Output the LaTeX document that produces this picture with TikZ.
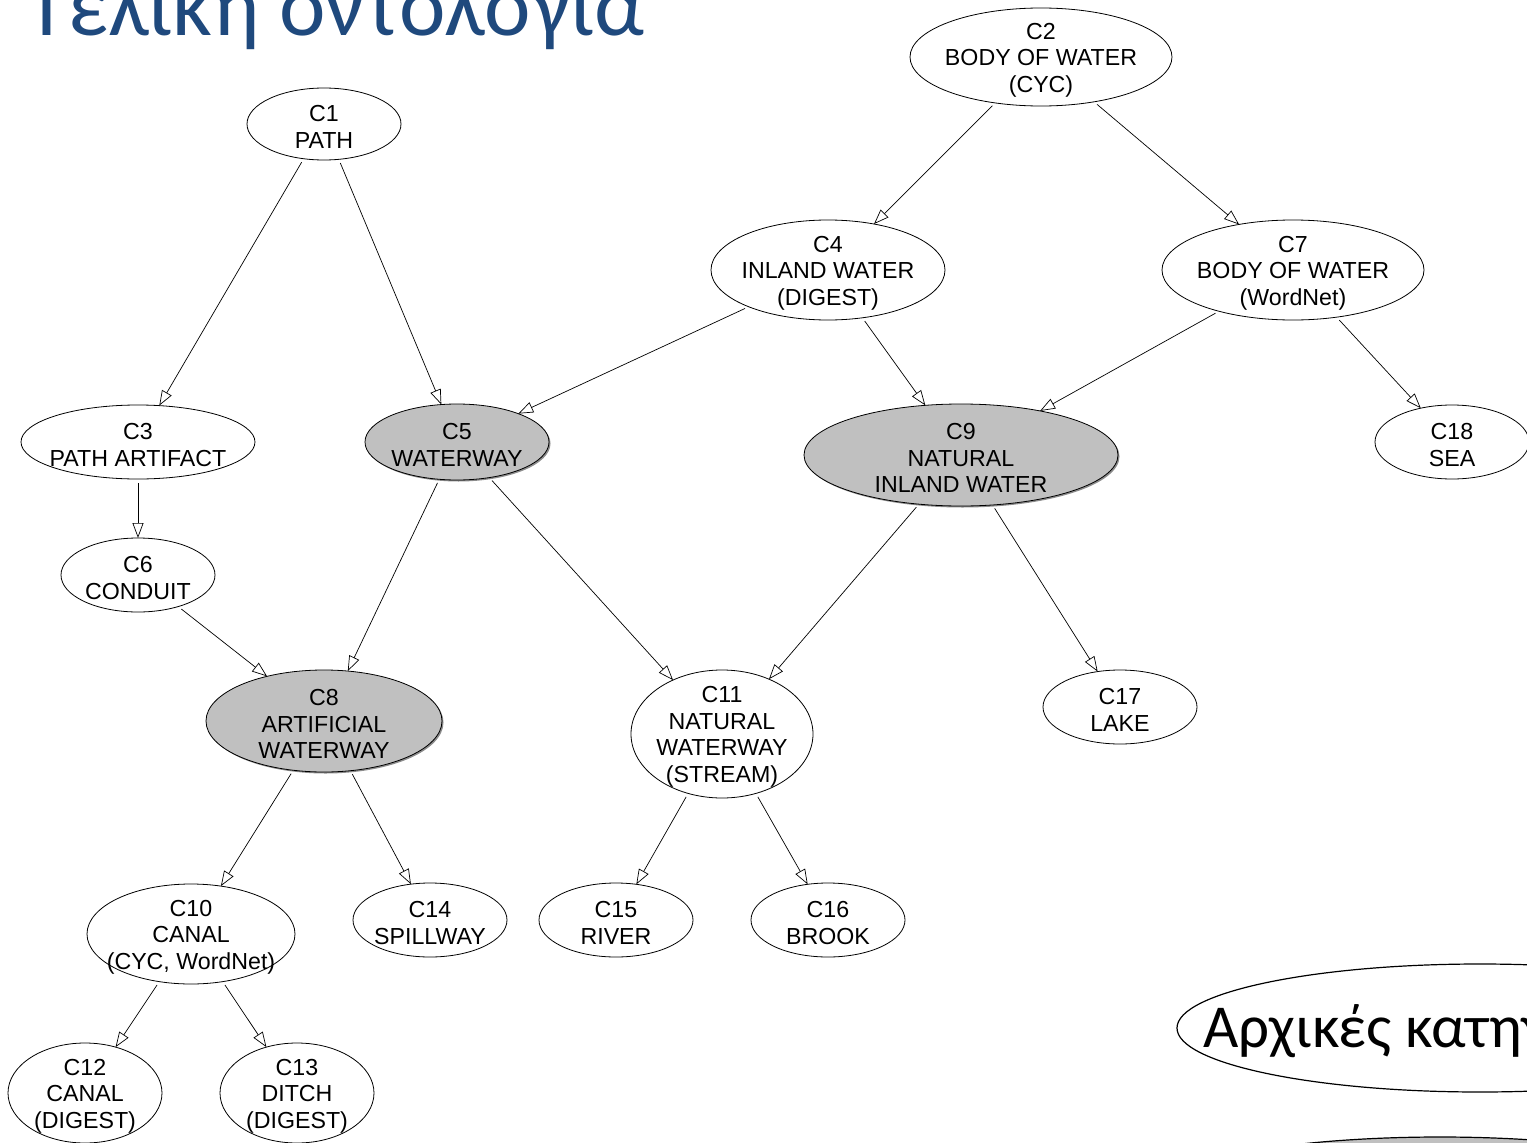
\documentclass[tikz,border=0pt]{standalone}
\usepackage{fontspec}
\setmainfont{Liberation Sans}
\newfontfamily\greekfont{Carlito}
\usetikzlibrary{shapes.geometric,arrows.meta,shadows}
\definecolor{titleblue}{RGB}{31,73,125}
\definecolor{nodegray}{RGB}{192,192,192}
\tikzset{
 concept/.style={ellipse, draw, line width=0.8pt, inner sep=0pt, outer sep=0pt, fill=white},
 ctext/.style={align=center, font=\fontsize{23.2}{26.5}\selectfont, inner sep=0pt},
 gr/.style={fill=nodegray, drop shadow={shadow xshift=1.5pt, shadow yshift=-1.5pt, fill=black!45, opacity=1}},
 isa/.style={-{Triangle[open, length=15pt, width=11pt]}, line width=0.7pt, shorten <=4pt},
}
\newcommand{\cpt}[7][]{%
 \node[concept,#1,minimum width={2*#5},minimum height={2*#6}] (#2) at (#3,#4) {};
 \node[ctext] (#2t) at ([yshift=-3pt]#2.center) {#7};}
\begin{document}
\begin{tikzpicture}[x=1pt,y=-1pt]
\clip (0,0) rectangle (1527,1143);
\fill[white] (0,0) rectangle (1527,1143);
% title
\node[anchor=base west, inner sep=0pt, text=titleblue, font=\greekfont\fontsize{88}{92}\selectfont] (title) at (25,35) {Τελική οντολογία};
% legend
\node[ellipse, draw, line width=1.2pt, minimum width=606, minimum height=128, inner sep=0pt] (legA) at (1480,1028) {};
\node[anchor=base west, inner sep=0pt, font=\greekfont\fontsize{61}{64}\selectfont] (legAt) at (1203,1047) {Αρχικές κατηγορίες};
\node[ellipse, draw, fill=nodegray, line width=1.2pt, minimum width=610, minimum height=128, inner sep=0pt] (legB) at (1440,1201) {};
% concepts
\cpt{c1}{324}{124}{77}{36}{C1\\PATH}
\cpt{c2}{1041}{57}{131}{49}{C2\\BODY OF WATER\\(CYC)}
\cpt{c3}{138}{442}{117}{37}{C3\\PATH ARTIFACT}
\cpt{c4}{828}{270}{117}{50}{C4\\INLAND WATER\\(DIGEST)}
\cpt[gr]{c5}{457}{442}{92}{38}{C5\\WATERWAY}
\cpt{c6}{138}{575}{77}{37}{C6\\CONDUIT}
\cpt{c7}{1293}{270}{131}{50}{C7\\BODY OF WATER\\(WordNet)}
\cpt[gr]{c8}{324}{721}{118}{51}{C8\\ARTIFICIAL\\WATERWAY}
\cpt[gr]{c9}{961}{455}{157}{51}{C9\\NATURAL\\INLAND WATER}
\cpt{c11}{722}{734}{91}{64}{C11\\NATURAL\\WATERWAY\\(STREAM)}
\cpt{c17}{1120}{707}{77}{37}{C17\\LAKE}
\cpt{c18}{1452}{442}{77}{37}{C18\\SEA}
\cpt{c10}{191}{934}{104}{50}{C10\\CANAL\\(CYC, WordNet)}
\cpt{c14}{430}{920}{77}{37}{C14\\SPILLWAY}
\cpt{c15}{616}{920}{77}{37}{C15\\RIVER}
\cpt{c16}{828}{920}{77}{37}{C16\\BROOK}
\cpt{c12}{85}{1093}{77}{50}{C12\\CANAL\\(DIGEST)}
\cpt{c13}{297}{1093}{77}{50}{C13\\DITCH\\(DIGEST)}
% edges
\draw[isa] (c1) -- (c3);
\draw[isa] (c1) -- (c5);
\draw[isa] (c2) -- (c4);
\draw[isa] (c2) -- (c7);
\draw[isa] (c4) -- (c5);
\draw[isa] (c4) -- (c9);
\draw[isa] (c7) -- (c9);
\draw[isa] (c7) -- (c18);
\draw[isa] (c3) -- (c6);
\draw[isa] (c5) -- (c8);
\draw[isa] (c5) -- (c11);
\draw[isa] (c6) -- (c8);
\draw[isa] (c9) -- (c11);
\draw[isa] (c9) -- (c17);
\draw[isa] (c8) -- (c10);
\draw[isa] (c8) -- (c14);
\draw[isa] (c11) -- (c15);
\draw[isa] (c11) -- (c16);
\draw[isa] (c10) -- (c12);
\draw[isa] (c10) -- (c13);
\end{tikzpicture}
\end{document}
